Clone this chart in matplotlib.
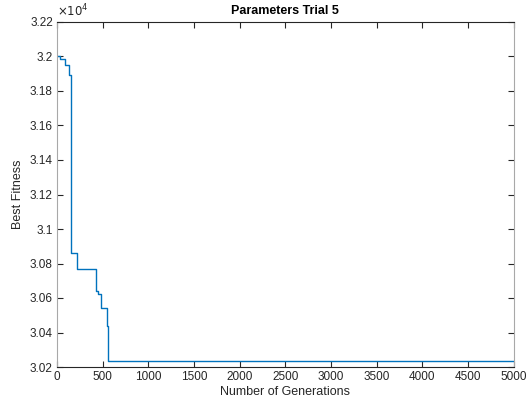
import matplotlib.pyplot as plt
from matplotlib.ticker import FuncFormatter

plt.rcParams['font.family'] = ['Liberation Sans', 'DejaVu Sans']

# Best fitness after each improvement (generation where the value changes)
generations = [0, 10, 30, 90, 130, 150, 215, 425, 445, 478, 552, 562, 5000]
best_fitness = [32005, 32000, 31988, 31952, 31890, 30860, 30770, 30638, 30625, 30542, 30440, 30235, 30235]

x_ticks = list(range(0, 5001, 500))
y_ticks = list(range(30200, 32201, 200))

fig = plt.figure(figsize=(5.27, 4.08), dpi=100)
ax = fig.add_axes([57 / 527, 1 - 367 / 408, 456.5 / 527, 345 / 408])

ax.plot(generations, best_fitness, drawstyle='steps-post', color='#0072BD', lw=1.0)

ax.set_xlim(0, 5000)
ax.set_ylim(30200, 32200)
ax.set_xticks(x_ticks)
ax.set_yticks(y_ticks)
ax.yaxis.set_major_formatter(FuncFormatter(lambda v, pos: '%g' % round(v / 1e4, 2)))

dark = '#262626'
ax.tick_params(direction='in', length=4, width=0.8, top=True, right=True,
               labelsize=8.5, colors=dark, pad=3)
for side in ('top', 'bottom'):
    ax.spines[side].set_color(dark)
    ax.spines[side].set_linewidth(0.8)
for side in ('left', 'right'):
    ax.spines[side].set_color('#a8a8a8')
    ax.spines[side].set_linewidth(0.8)

ax.text(0.0, 1.008, r'$\times10^{4}$', transform=ax.transAxes, fontsize=8.5,
        color=dark, ha='left', va='bottom')

ax.set_title('Parameters Trial 5', fontsize=9, fontweight='bold', color='black', pad=6)
ax.set_xlabel('Number of Generations', fontsize=9, color=dark, labelpad=2)
ax.set_ylabel('Best Fitness', fontsize=9, color=dark, labelpad=4)

fig.savefig('out.png', dpi=100)
